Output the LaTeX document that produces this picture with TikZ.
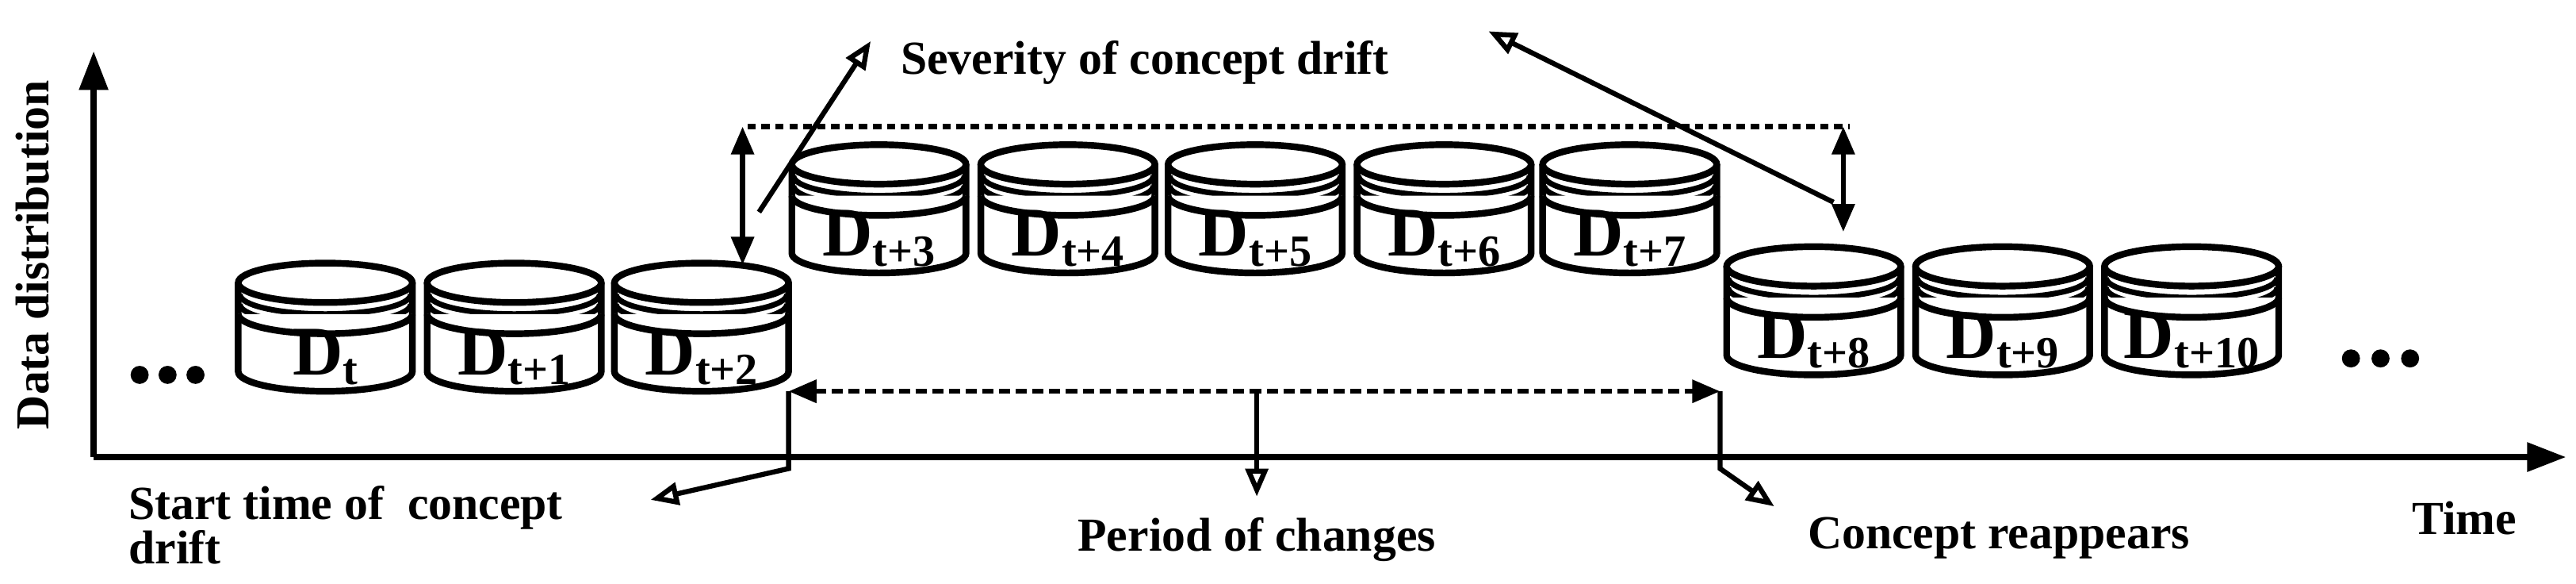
\documentclass[tikz,border=0pt]{standalone}
\usepackage{fontspec}
\setmainfont{Liberation Serif}
\usetikzlibrary{arrows.meta}

\tikzset{
    db/.style = {line width=2.4pt, fill=white},
    ring/.style = {line width=2pt},
    lbl/.style = {font=\bfseries\fontsize{25}{28}\selectfont, inner sep=0pt},
    txt/.style = {font=\bfseries\fontsize{17}{20}\selectfont, inner sep=0pt},
    pointer/.style = {line width=1.8pt, -{Triangle[open, length=10pt, width=8pt]}},
    span/.style = {line width=1.8pt, {Triangle[length=10pt, width=8pt]}-{Triangle[length=10pt, width=8pt]}}
}

% one data chunk: name, x, top y, label
\newcommand{\chunk}[4]{
    \begin{scope}[shift={(#2,#3)}]
        \draw[db] (-53,-12) -- (-53,-66) arc[start angle=180, end angle=360, x radius=53, y radius=12] -- (53,-12);
        \draw[db] (0,-12) ellipse [x radius=53, y radius=12];
        \draw[ring] (-52,-19) arc[start angle=180, end angle=360, x radius=52, y radius=12];
        \draw[ring] (-52,-25) arc[start angle=180, end angle=360, x radius=52, y radius=12];
        \draw[db] (-53,-31) arc[start angle=180, end angle=360, x radius=53, y radius=12];
    \end{scope}
    \node[lbl] (#1) at (#2,#3-57) {D\raisebox{-0.3ex}{\fontsize{16}{18}\selectfont #4}};
}

\begin{document}
\begin{tikzpicture}[x=0.02072cm, y=0.02072cm]
    \useasboundingbox (0,0) rectangle (1568,355);

    % axes
    \coordinate (O) at (57,77);
    \coordinate (xend) at (1562,77);
    \coordinate (yend) at (57,324);
    \draw[line width=2.4pt, -{Triangle[length=14pt, width=10pt]}] (O) -- (xend);
    \draw[line width=2.4pt, -{Triangle[length=14pt, width=10pt]}] (O) -- (yend);
    \node[txt, rotate=90] (ylab) at (20,200) {Data distribution};
    \node[txt] (xlab) at (1500,40) {Time};

    % dots
    \foreach \x in {85,102,119} \fill (\x,127) circle (5.5);
    \foreach \x in {1431,1449,1467} \fill (\x,137) circle (5.5);

    % chunks
    \chunk{d0}{198}{195}{t}
    \chunk{d1}{313}{195}{t+1}
    \chunk{d2}{427}{195}{t+2}
    \chunk{d3}{535}{267}{t+3}
    \chunk{d4}{650}{267}{t+4}
    \chunk{d5}{764}{267}{t+5}
    \chunk{d6}{879}{267}{t+6}
    \chunk{d7}{992}{267}{t+7}
    \chunk{d8}{1104}{205}{t+8}
    \chunk{d9}{1219}{205}{t+9}
    \chunk{d10}{1334}{205}{t+10}

    % severity
    \coordinate (top1) at (455,278);
    \coordinate (top2) at (1126,278);
    \draw[line width=1.8pt, dash pattern=on 3pt off 2pt] (top1) -- (top2);
    \coordinate (s1) at (452,278);
    \coordinate (s2) at (452,194);
    \coordinate (s3) at (1122,278);
    \coordinate (s4) at (1122,214);
    \draw[span] (s1) -- (s2);
    \draw[span] (s3) -- (s4);
    \node[txt, anchor=west] (sev) at (548,317) {Severity of concept drift};
    \coordinate (p1) at (462,226);
    \coordinate (q1) at (530,330);
    \coordinate (p2) at (1116,232);
    \coordinate (q2) at (906,336);
    \draw[pointer] (p1) -- (q1);
    \draw[pointer] (p2) -- (q2);

    % period of changes
    \coordinate (a) at (480,117);
    \coordinate (b) at (1047,117);
    \coordinate (m) at (765,117);
    \draw[span, dash pattern=on 4pt off 2pt] (a) -- (b);
    \coordinate (a1) at (480,70);
    \coordinate (a2) at (396,51);
    \draw[pointer] (a) -- (a1) -- (a2);
    \coordinate (m1) at (765,53);
    \draw[pointer] (m) -- (m1);
    \coordinate (b1) at (1047,70);
    \coordinate (b2) at (1080,47);
    \draw[pointer] (b) -- (b1) -- (b2);

    \node[txt, anchor=west] (start) at (78,46) {Start time of \ concept};
    \node[txt, anchor=west] (start2) at (78,22) {drift};
    \node[txt] (period) at (765,27) {Period of changes};
    \node[txt, anchor=west] (reap) at (1100,28) {Concept reappears};
\end{tikzpicture}
\end{document}
